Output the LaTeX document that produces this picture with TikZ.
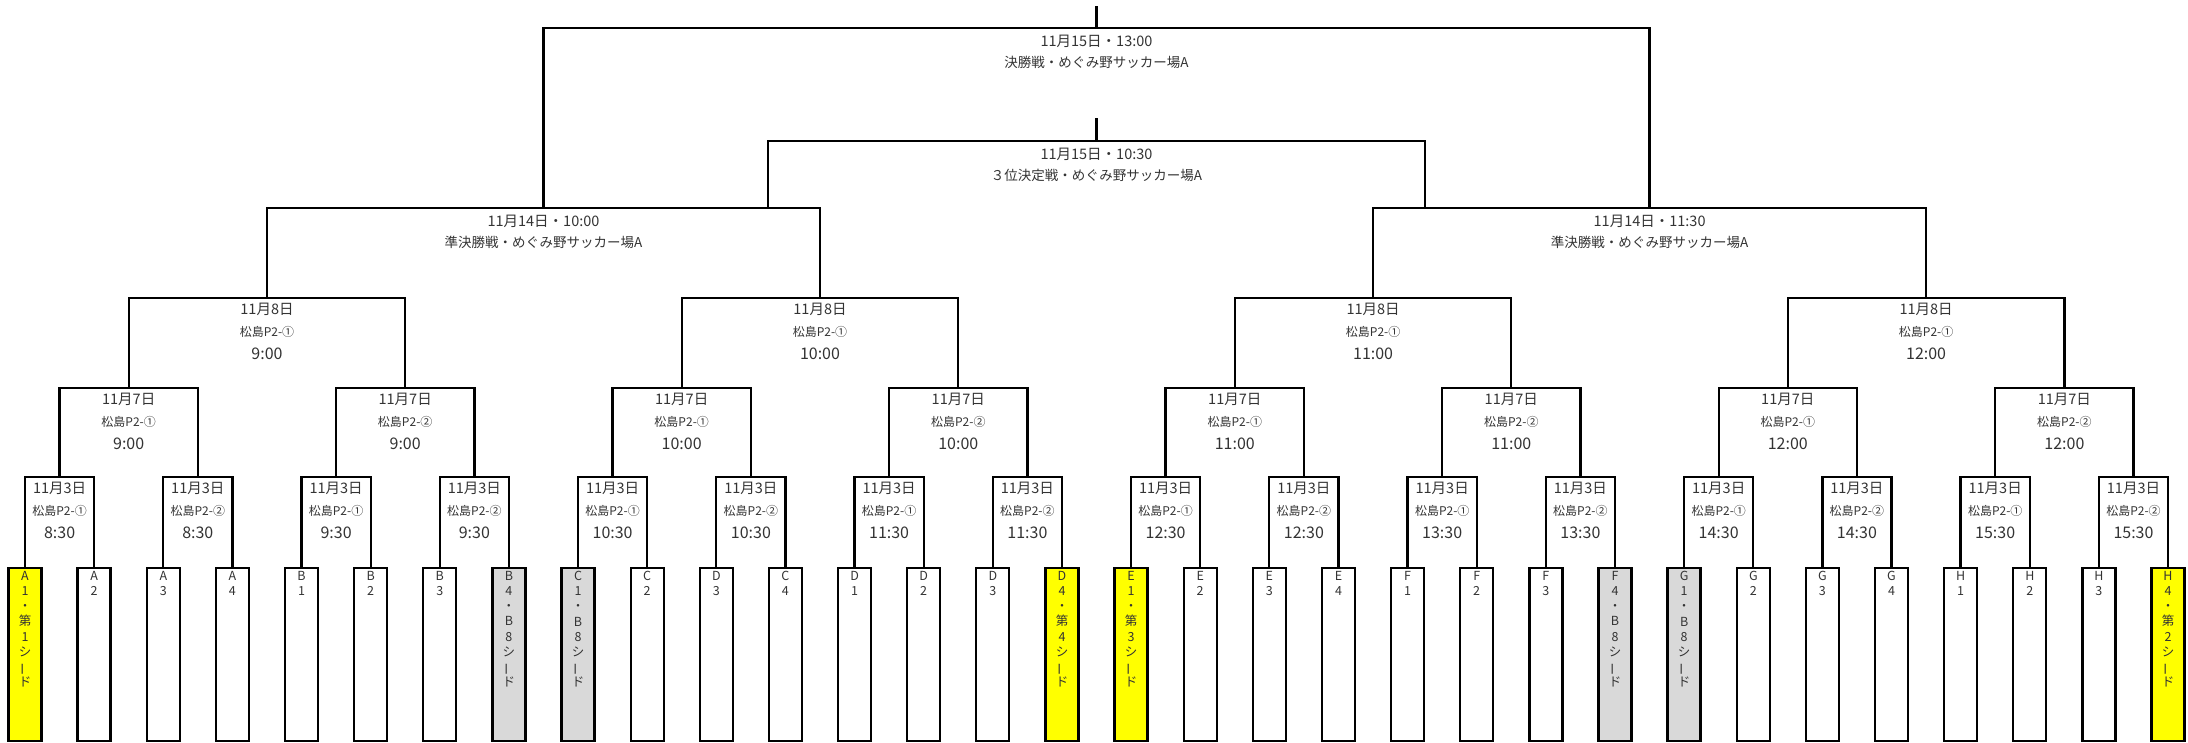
\documentclass[tikz,border=0pt]{standalone}
\usepackage{fontspec}
\setmainfont{Noto Sans CJK JP}
\usepackage{graphicx}
\usepackage{tikz}
\usetikzlibrary{positioning}
\definecolor{LineColor}{RGB}{0,0,0}
\definecolor{TextColor}{RGB}{51,51,51}
\definecolor{SeedColor}{RGB}{255,255,0}
\definecolor{BSeedColor}{RGB}{217,217,217}
\tikzset{
  bracket/.style={draw=LineColor, line width=2.3pt},
  teambox/.style={rectangle, draw=LineColor, line width=2.3pt, fill=white, minimum width=33pt, minimum height=173pt, inner sep=0pt, anchor=north},
  seedbox/.style={teambox, fill=SeedColor},
  bseedbox/.style={teambox, fill=BSeedColor},
  teamtext/.style={anchor=north, inner sep=0pt, yshift=-4pt, align=center, text=TextColor, font=\fontsize{12.5}{15.2}\selectfont}
}
\tikzset{
  datetext/.style={inner sep=0pt, text=TextColor, font=\fontsize{14.5}{16}\selectfont},
  venuetext/.style={inner sep=0pt, text=TextColor, font=\fontsize{12}{14}\selectfont},
  timetext/.style={inner sep=0pt, text=TextColor, font=\fontsize{16}{18}\selectfont},
  placetext/.style={inner sep=0pt, text=TextColor, font=\fontsize{13.5}{15}\selectfont}
}
% vertical long vowel mark
\newcommand{\vbar}{\rotatebox[origin=c]{90}{ー}}
\newcommand{\team}[4]{%
  \node[#2] (#1) at (#3,567) {};
  \node[teamtext] (#1-label) at (#1.north) {#4};
}
\newcommand{\matchinfo}[4]{%
  \node[datetext, yshift=-11.5pt] (#1-date) at (#1) {#2};
  \node[venuetext, yshift=-34pt] (#1-venue) at (#1) {#3};
  \node[timetext, yshift=-56pt] (#1-time) at (#1) {#4};
}
\newcommand{\bigmatchinfo}[3]{%
  \node[datetext, yshift=-13pt] (#1-date) at (#1) {#2};
  \node[placetext, yshift=-34.5pt] (#1-venue) at (#1) {#3};
}

\begin{document}
\begin{tikzpicture}[x=1pt, y=-1pt]
  \useasboundingbox (0,0) rectangle (2188,742);

  % Bracket points
  \coordinate (r1-1) at (59.6,477);
  \coordinate (r1-2) at (197.8,477);
  \coordinate (r1-3) at (336.1,477);
  \coordinate (r1-4) at (474.4,477);
  \coordinate (r1-5) at (612.6,477);
  \coordinate (r1-6) at (750.9,477);
  \coordinate (r1-7) at (889.1,477);
  \coordinate (r1-8) at (1027.4,477);
  \coordinate (r1-9) at (1165.6,477);
  \coordinate (r1-10) at (1303.9,477);
  \coordinate (r1-11) at (1442.2,477);
  \coordinate (r1-12) at (1580.4,477);
  \coordinate (r1-13) at (1718.7,477);
  \coordinate (r1-14) at (1856.9,477);
  \coordinate (r1-15) at (1995.2,477);
  \coordinate (r1-16) at (2133.5,477);

  \coordinate (r2-1) at (128.7,388);
  \coordinate (r2-2) at (405.2,388);
  \coordinate (r2-3) at (681.7,388);
  \coordinate (r2-4) at (958.3,388);
  \coordinate (r2-5) at (1234.8,388);
  \coordinate (r2-6) at (1511.3,388);
  \coordinate (r2-7) at (1787.8,388);
  \coordinate (r2-8) at (2064.4,388);

  \coordinate (r3-1) at (267,298);
  \coordinate (r3-2) at (820,298);
  \coordinate (r3-3) at (1373.1,298);
  \coordinate (r3-4) at (1926.1,298);

  \coordinate (semi1) at (543.5,208);
  \coordinate (semi2) at (1649.6,208);
  \coordinate (final) at (1096.5,28);
  \coordinate (final-top) at (1096.5,6);
  \coordinate (third) at (1096.5,141);
  \coordinate (third-top) at (1096.5,118);
  \coordinate (third-l) at (768,208);
  \coordinate (third-r) at (1425,208);

  % Teams
  \team{t1}{seedbox}{25}{A\\1\\・\\第\\1\\シ\\\vbar\\ド}
  \team{t2}{teambox}{94.1}{A\\2}
  \team{t3}{teambox}{163.3}{A\\3}
  \team{t4}{teambox}{232.4}{A\\4}
  \team{t5}{teambox}{301.5}{B\\1}
  \team{t6}{teambox}{370.7}{B\\2}
  \team{t7}{teambox}{439.8}{B\\3}
  \team{t8}{bseedbox}{508.9}{B\\4\\・\\B\\8\\シ\\\vbar\\ド}
  \team{t9}{bseedbox}{578}{C\\1\\・\\B\\8\\シ\\\vbar\\ド}
  \team{t10}{teambox}{647.2}{C\\2}
  \team{t11}{teambox}{716.3}{D\\3}
  \team{t12}{teambox}{785.4}{C\\4}
  \team{t13}{teambox}{854.6}{D\\1}
  \team{t14}{teambox}{923.7}{D\\2}
  \team{t15}{teambox}{992.8}{D\\3}
  \team{t16}{seedbox}{1062}{D\\4\\・\\第\\4\\シ\\\vbar\\ド}
  \team{t17}{seedbox}{1131.1}{E\\1\\・\\第\\3\\シ\\\vbar\\ド}
  \team{t18}{teambox}{1200.2}{E\\2}
  \team{t19}{teambox}{1269.3}{E\\3}
  \team{t20}{teambox}{1338.5}{E\\4}
  \team{t21}{teambox}{1407.6}{F\\1}
  \team{t22}{teambox}{1476.7}{F\\2}
  \team{t23}{teambox}{1545.9}{F\\3}
  \team{t24}{bseedbox}{1615}{F\\4\\・\\B\\8\\シ\\\vbar\\ド}
  \team{t25}{bseedbox}{1684.1}{G\\1\\・\\B\\8\\シ\\\vbar\\ド}
  \team{t26}{teambox}{1753.3}{G\\2}
  \team{t27}{teambox}{1822.4}{G\\3}
  \team{t28}{teambox}{1891.5}{G\\4}
  \team{t29}{teambox}{1960.6}{H\\1}
  \team{t30}{teambox}{2029.8}{H\\2}
  \team{t31}{teambox}{2098.9}{H\\3}
  \team{t32}{seedbox}{2168}{H\\4\\・\\第\\2\\シ\\\vbar\\ド}

  % 1st round
  \draw[bracket] (t1.north) |- (r1-1) -| (t2.north);
  \draw[bracket] (t3.north) |- (r1-2) -| (t4.north);
  \draw[bracket] (t5.north) |- (r1-3) -| (t6.north);
  \draw[bracket] (t7.north) |- (r1-4) -| (t8.north);
  \draw[bracket] (t9.north) |- (r1-5) -| (t10.north);
  \draw[bracket] (t11.north) |- (r1-6) -| (t12.north);
  \draw[bracket] (t13.north) |- (r1-7) -| (t14.north);
  \draw[bracket] (t15.north) |- (r1-8) -| (t16.north);
  \draw[bracket] (t17.north) |- (r1-9) -| (t18.north);
  \draw[bracket] (t19.north) |- (r1-10) -| (t20.north);
  \draw[bracket] (t21.north) |- (r1-11) -| (t22.north);
  \draw[bracket] (t23.north) |- (r1-12) -| (t24.north);
  \draw[bracket] (t25.north) |- (r1-13) -| (t26.north);
  \draw[bracket] (t27.north) |- (r1-14) -| (t28.north);
  \draw[bracket] (t29.north) |- (r1-15) -| (t30.north);
  \draw[bracket] (t31.north) |- (r1-16) -| (t32.north);

  \matchinfo{r1-1}{11月3日}{松島P2-①}{8:30}
  \matchinfo{r1-2}{11月3日}{松島P2-②}{8:30}
  \matchinfo{r1-3}{11月3日}{松島P2-①}{9:30}
  \matchinfo{r1-4}{11月3日}{松島P2-②}{9:30}
  \matchinfo{r1-5}{11月3日}{松島P2-①}{10:30}
  \matchinfo{r1-6}{11月3日}{松島P2-②}{10:30}
  \matchinfo{r1-7}{11月3日}{松島P2-①}{11:30}
  \matchinfo{r1-8}{11月3日}{松島P2-②}{11:30}
  \matchinfo{r1-9}{11月3日}{松島P2-①}{12:30}
  \matchinfo{r1-10}{11月3日}{松島P2-②}{12:30}
  \matchinfo{r1-11}{11月3日}{松島P2-①}{13:30}
  \matchinfo{r1-12}{11月3日}{松島P2-②}{13:30}
  \matchinfo{r1-13}{11月3日}{松島P2-①}{14:30}
  \matchinfo{r1-14}{11月3日}{松島P2-②}{14:30}
  \matchinfo{r1-15}{11月3日}{松島P2-①}{15:30}
  \matchinfo{r1-16}{11月3日}{松島P2-②}{15:30}

  % 2nd round
  \draw[bracket] (r1-1) |- (r2-1) -| (r1-2);
  \draw[bracket] (r1-3) |- (r2-2) -| (r1-4);
  \draw[bracket] (r1-5) |- (r2-3) -| (r1-6);
  \draw[bracket] (r1-7) |- (r2-4) -| (r1-8);
  \draw[bracket] (r1-9) |- (r2-5) -| (r1-10);
  \draw[bracket] (r1-11) |- (r2-6) -| (r1-12);
  \draw[bracket] (r1-13) |- (r2-7) -| (r1-14);
  \draw[bracket] (r1-15) |- (r2-8) -| (r1-16);

  \matchinfo{r2-1}{11月7日}{松島P2-①}{9:00}
  \matchinfo{r2-2}{11月7日}{松島P2-②}{9:00}
  \matchinfo{r2-3}{11月7日}{松島P2-①}{10:00}
  \matchinfo{r2-4}{11月7日}{松島P2-②}{10:00}
  \matchinfo{r2-5}{11月7日}{松島P2-①}{11:00}
  \matchinfo{r2-6}{11月7日}{松島P2-②}{11:00}
  \matchinfo{r2-7}{11月7日}{松島P2-①}{12:00}
  \matchinfo{r2-8}{11月7日}{松島P2-②}{12:00}

  % 3rd round
  \draw[bracket] (r2-1) |- (r3-1) -| (r2-2);
  \draw[bracket] (r2-3) |- (r3-2) -| (r2-4);
  \draw[bracket] (r2-5) |- (r3-3) -| (r2-6);
  \draw[bracket] (r2-7) |- (r3-4) -| (r2-8);

  \matchinfo{r3-1}{11月8日}{松島P2-①}{9:00}
  \matchinfo{r3-2}{11月8日}{松島P2-①}{10:00}
  \matchinfo{r3-3}{11月8日}{松島P2-①}{11:00}
  \matchinfo{r3-4}{11月8日}{松島P2-①}{12:00}

  % Semi finals
  \draw[bracket] (r3-1) |- (semi1) -| (r3-2);
  \draw[bracket] (r3-3) |- (semi2) -| (r3-4);
  \bigmatchinfo{semi1}{11月14日・10:00}{準決勝戦・めぐみ野サッカー場A}
  \bigmatchinfo{semi2}{11月14日・11:30}{準決勝戦・めぐみ野サッカー場A}

  % Final
  \draw[bracket] (semi1) |- (final) -| (semi2);
  \draw[bracket] (final) -- (final-top);
  \bigmatchinfo{final}{11月15日・13:00}{決勝戦・めぐみ野サッカー場A}

  % 3rd place
  \draw[bracket] (third-l) |- (third) -| (third-r);
  \draw[bracket] (third) -- (third-top);
  \bigmatchinfo{third}{11月15日・10:30}{３位決定戦・めぐみ野サッカー場A}
\end{tikzpicture}
\end{document}
